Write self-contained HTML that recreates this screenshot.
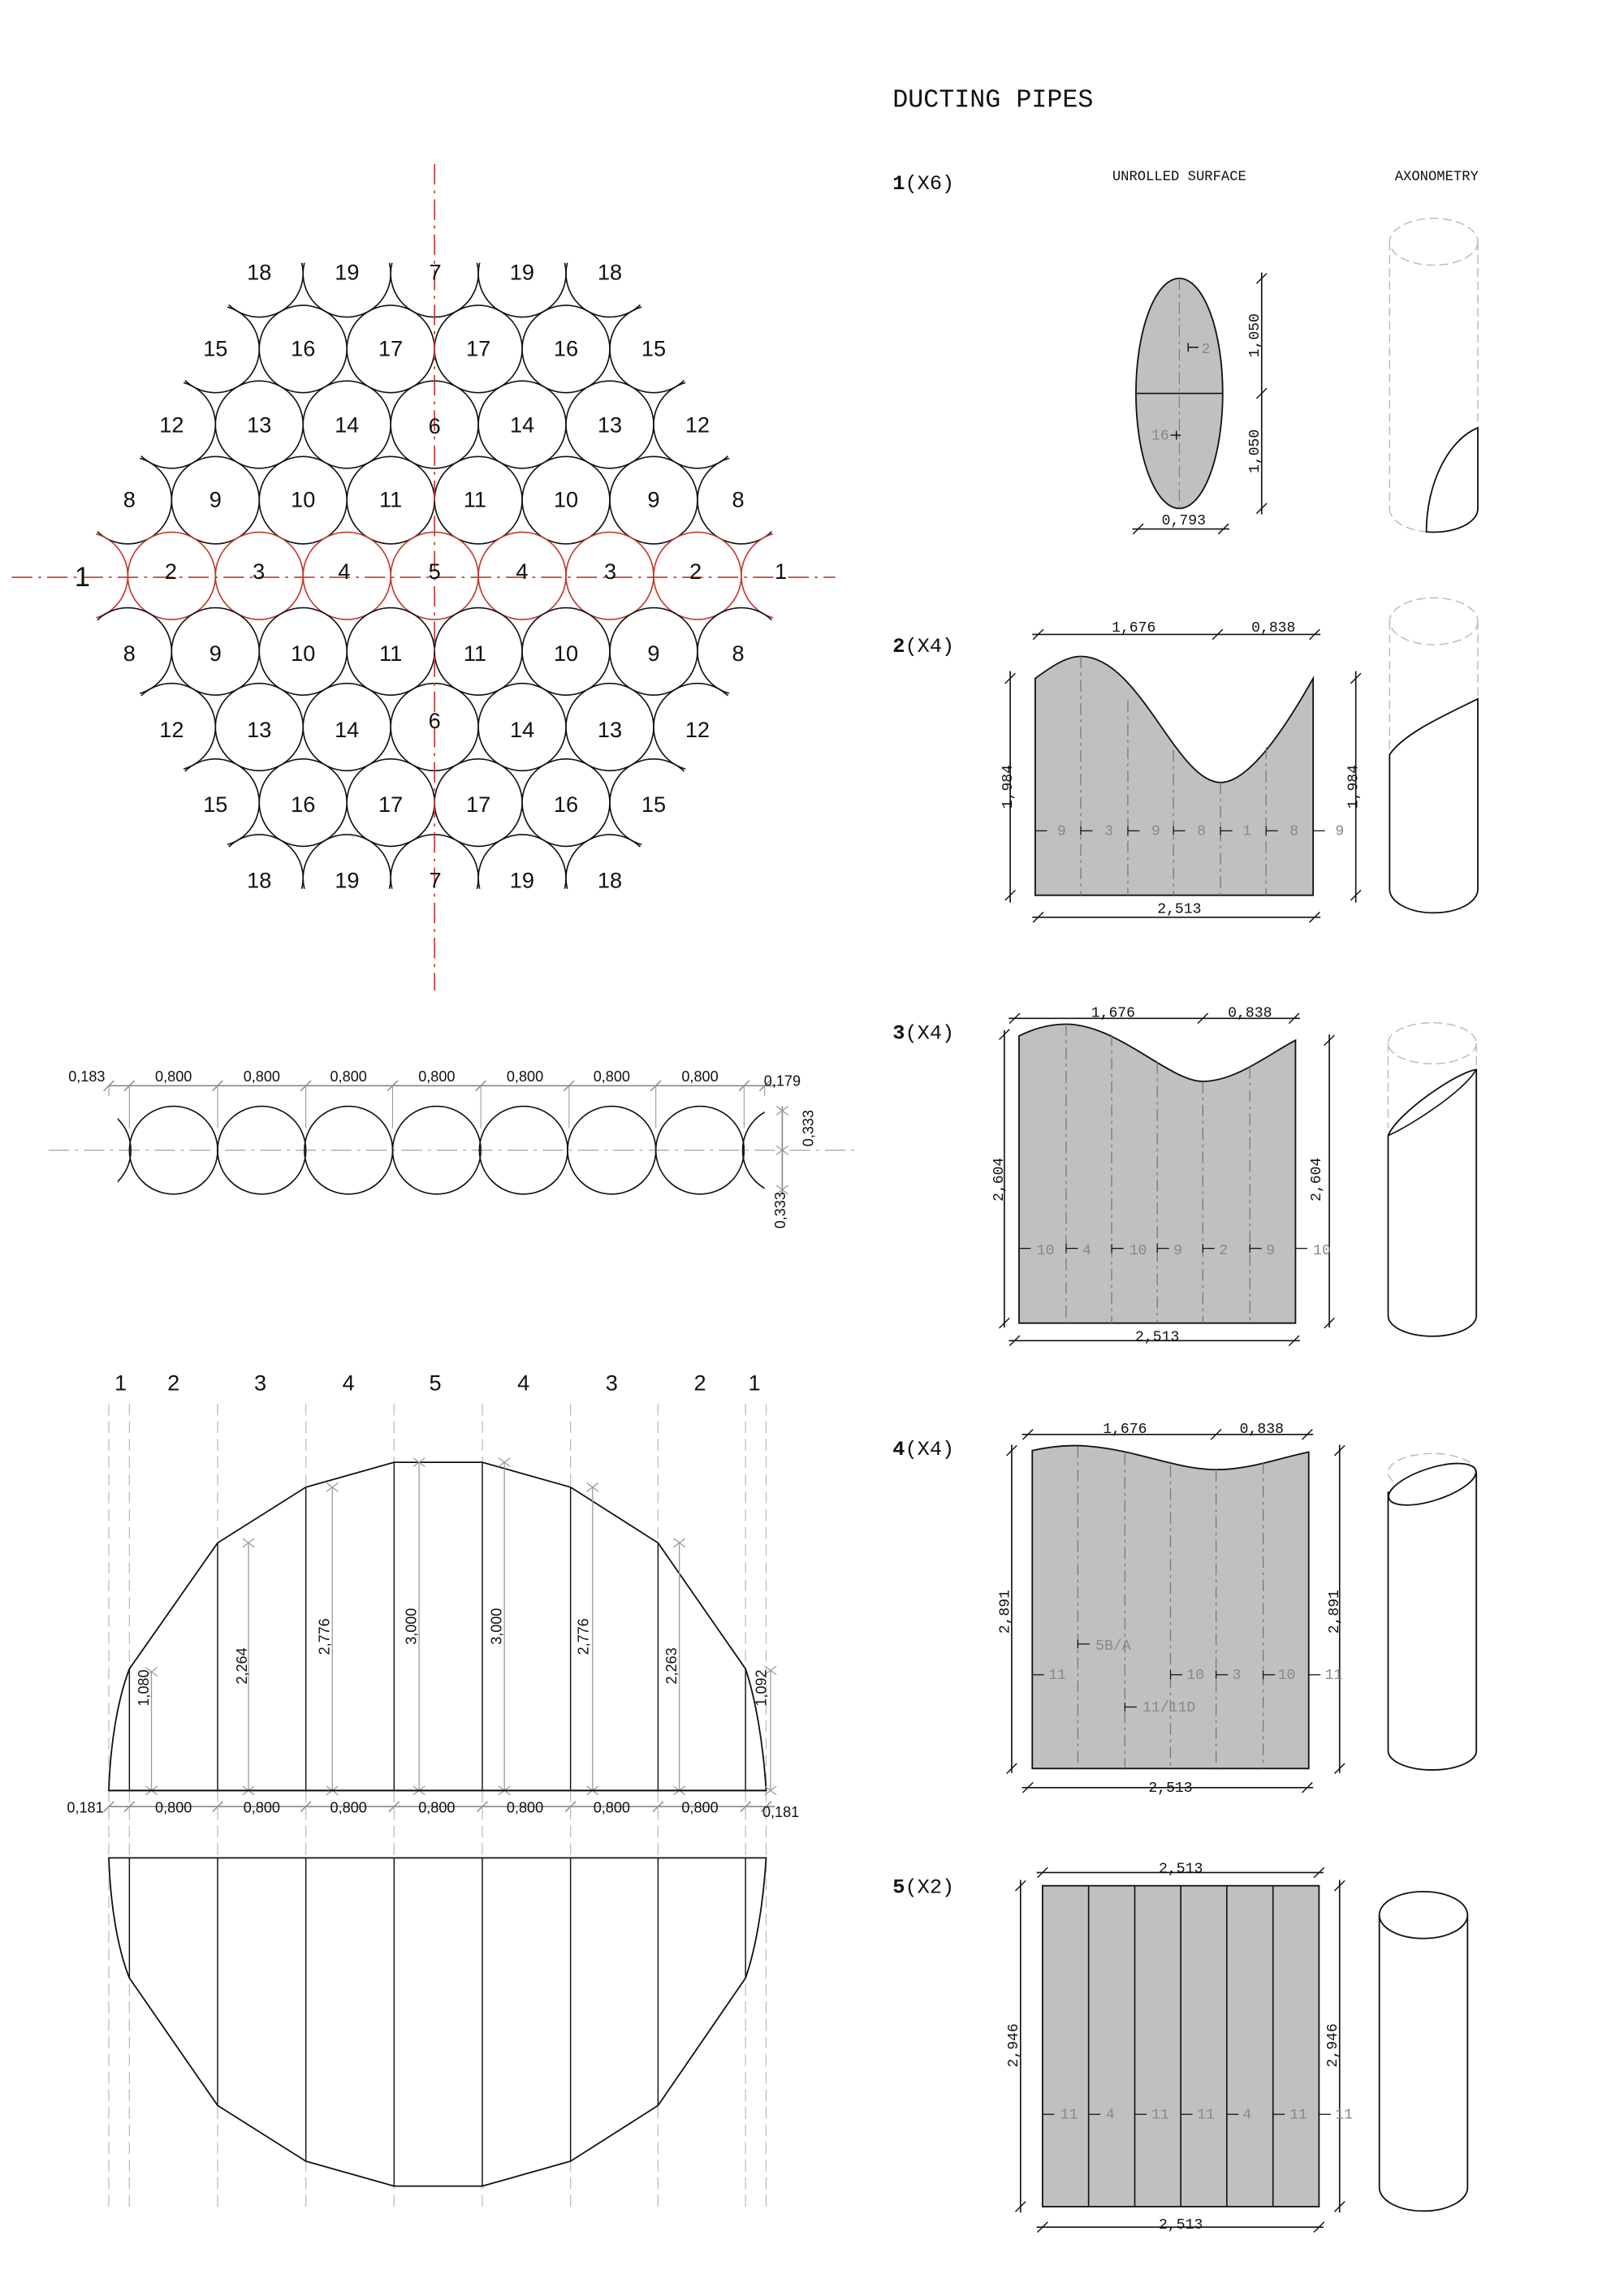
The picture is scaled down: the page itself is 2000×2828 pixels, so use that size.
<!DOCTYPE html>
<html><head><meta charset="utf-8">
<style>
html,body{margin:0;padding:0;background:#fff;}
svg{display:block;}
.s{font-family:"Liberation Sans",sans-serif;fill:#111;}
.m{font-family:"Liberation Mono",monospace;fill:#111;}
.g{fill:#888;}
</style></head>
<body>
<svg id="d" width="2000" height="2828" viewBox="0 0 1104.4 1567" preserveAspectRatio="none" xmlns="http://www.w3.org/2000/svg">
<rect width="1104.4" height="1567" fill="#fff"/>
<defs>
<clipPath id="hexclip"><polygon id="hexpoly" points="0,0"/></clipPath>
</defs>
<g id="hex" fill="none" stroke-width="0.9"></g>
<line x1="8" y1="394" x2="568" y2="394" stroke="#c0392b" stroke-width="0.9" stroke-dasharray="14,4,2,4"/>
<line x1="295.5" y1="112" x2="295.5" y2="676" stroke="#c0392b" stroke-width="0.9" stroke-dasharray="14,4,2,4"/>

<g class="s" font-size="15" text-anchor="middle">
<text x="176.3" y="191">18</text><text x="236" y="191">19</text><text x="296" y="191">7</text><text x="355" y="191">19</text><text x="414.7" y="191">18</text>
<text x="146.5" y="243">15</text><text x="206.1" y="243">16</text><text x="265.7" y="243">17</text><text x="325.3" y="243">17</text><text x="384.9" y="243">16</text><text x="444.5" y="243">15</text>
<text x="116.7" y="295">12</text><text x="176.3" y="295">13</text><text x="235.9" y="295">14</text><text x="295.5" y="296">6</text><text x="355.1" y="295">14</text><text x="414.7" y="295">13</text><text x="474.3" y="295">12</text>
<text x="88" y="346">8</text><text x="146.5" y="346">9</text><text x="206.1" y="346">10</text><text x="265.7" y="346">11</text><text x="323" y="346">11</text><text x="384.9" y="346">10</text><text x="444.5" y="346">9</text><text x="502" y="346">8</text>
<text x="116.2" y="395">2</text><text x="176" y="395">3</text><text x="234" y="395">4</text><text x="295.5" y="395">5</text><text x="355" y="395">4</text><text x="415" y="395">3</text><text x="473" y="395">2</text><text x="531" y="395">1</text>
<text x="56" y="400" font-size="19">1</text>
<text x="88" y="451">8</text><text x="146.5" y="451">9</text><text x="206.1" y="451">10</text><text x="265.7" y="451">11</text><text x="323" y="451">11</text><text x="384.9" y="451">10</text><text x="444.5" y="451">9</text><text x="502" y="451">8</text>
<text x="116.7" y="503">12</text><text x="176.3" y="503">13</text><text x="235.9" y="503">14</text><text x="295.5" y="497">6</text><text x="355.1" y="503">14</text><text x="414.7" y="503">13</text><text x="474.3" y="503">12</text>
<text x="146.5" y="554">15</text><text x="206.1" y="554">16</text><text x="265.7" y="554">17</text><text x="325.3" y="554">17</text><text x="384.9" y="554">16</text><text x="444.5" y="554">15</text>
<text x="176.3" y="606">18</text><text x="236" y="606">19</text><text x="296" y="606">7</text><text x="355" y="606">19</text><text x="414.7" y="606">18</text>
</g>

<g id="mid" fill="none"></g>
<g class="s" font-size="10" text-anchor="middle">
<text x="59" y="738">0,183</text>
<text x="118" y="738">0,800</text><text x="178" y="738">0,800</text><text x="237" y="738">0,800</text><text x="297" y="738">0,800</text><text x="357" y="738">0,800</text><text x="416" y="738">0,800</text><text x="476" y="738">0,800</text>
<text x="532" y="741">0,179</text>
<text transform="translate(553,770) rotate(-90)">0,333</text>
<text transform="translate(534,826) rotate(-90)">0,333</text>
</g>

<g class="s" font-size="15" text-anchor="middle">
<text x="82" y="949">1</text><text x="118" y="949">2</text><text x="177" y="949">3</text><text x="237" y="949">4</text><text x="296" y="949">5</text><text x="356" y="949">4</text><text x="416" y="949">3</text><text x="476" y="949">2</text><text x="513" y="949">1</text>
</g>
<g id="bot" fill="none"></g>
<g class="s" font-size="10" text-anchor="middle">
<text transform="translate(101,1152) rotate(-90)">1,080</text>
<text transform="translate(168,1137) rotate(-90)">2,264</text>
<text transform="translate(224,1117) rotate(-90)">2,776</text>
<text transform="translate(283,1110) rotate(-90)">3,000</text>
<text transform="translate(341,1110) rotate(-90)">3,000</text>
<text transform="translate(400,1117) rotate(-90)">2,776</text>
<text transform="translate(460,1137) rotate(-90)">2,263</text>
<text transform="translate(521,1152) rotate(-90)">1,092</text>
<text x="58" y="1237">0,181</text>
<text x="118" y="1237">0,800</text><text x="178" y="1237">0,800</text><text x="237" y="1237">0,800</text><text x="297" y="1237">0,800</text><text x="357" y="1237">0,800</text><text x="416" y="1237">0,800</text><text x="476" y="1237">0,800</text>
<text x="531" y="1240">0,181</text>
</g>

<text class="m" x="607" y="73" font-size="17.5">DUCTING PIPES</text>
<text class="m" x="607" y="129" font-size="14"><tspan font-weight="bold">1</tspan>(X6)</text>
<text class="m" x="607" y="445" font-size="14"><tspan font-weight="bold">2</tspan>(X4)</text>
<text class="m" x="607" y="709" font-size="14"><tspan font-weight="bold">3</tspan>(X4)</text>
<text class="m" x="607" y="993" font-size="14"><tspan font-weight="bold">4</tspan>(X4)</text>
<text class="m" x="607" y="1292" font-size="14"><tspan font-weight="bold">5</tspan>(X2)</text>
<text class="m" x="802" y="123" font-size="9.5" text-anchor="middle">UNROLLED SURFACE</text>
<text class="m" x="977" y="123" font-size="9.5" text-anchor="middle">AXONOMETRY</text>

<g id="right" fill="none"></g>

<g class="m" font-size="10" text-anchor="middle">
<text transform="translate(856,229) rotate(-90)">1,050</text>
<text transform="translate(856,308) rotate(-90)">1,050</text>
<text x="805" y="358">0,793</text>
<text class="m g" x="820" y="241">2</text>
<text class="m g" x="789" y="300">16</text>
<text x="771" y="431">1,676</text><text x="866" y="431">0,838</text>
<text transform="translate(688,537) rotate(-90)">1,984</text>
<text transform="translate(923,537) rotate(-90)">1,984</text>
<text x="802" y="623">2,513</text>
<text class="m g" x="722" y="570">9</text><text class="m g" x="754" y="570">3</text><text class="m g" x="786" y="570">9</text><text class="m g" x="817" y="570">8</text><text class="m g" x="848" y="570">1</text><text class="m g" x="880" y="570">8</text><text class="m g" x="911" y="570">9</text>
<text x="757" y="694">1,676</text><text x="850" y="694">0,838</text>
<text transform="translate(682,805) rotate(-90)">2,604</text>
<text transform="translate(898,805) rotate(-90)">2,604</text>
<text x="787" y="915">2,513</text>
<text class="m g" x="711" y="856">10</text><text class="m g" x="739" y="856">4</text><text class="m g" x="774" y="856">10</text><text class="m g" x="801" y="856">9</text><text class="m g" x="832" y="856">2</text><text class="m g" x="864" y="856">9</text><text class="m g" x="899" y="856">10</text>
<text x="765" y="978">1,676</text><text x="858" y="978">0,838</text>
<text transform="translate(686,1100) rotate(-90)">2,891</text>
<text transform="translate(910,1100) rotate(-90)">2,891</text>
<text x="796" y="1223">2,513</text>
<text class="m g" x="719" y="1146">11</text>
<text class="m g" x="757" y="1126">5B/A</text>
<text class="m g" x="795" y="1168">11/11D</text>
<text class="m g" x="813" y="1146">10</text><text class="m g" x="841" y="1146">3</text><text class="m g" x="875" y="1146">10</text><text class="m g" x="907" y="1146">11</text>
<text x="803" y="1278">2,513</text>
<text transform="translate(692,1396) rotate(-90)">2,946</text>
<text transform="translate(909,1396) rotate(-90)">2,946</text>
<text x="803" y="1521">2,513</text>
<text class="m g" x="727" y="1446">11</text><text class="m g" x="755" y="1446">4</text><text class="m g" x="789" y="1446">11</text><text class="m g" x="820" y="1446">11</text><text class="m g" x="848" y="1446">4</text><text class="m g" x="883" y="1446">11</text><text class="m g" x="914" y="1446">11</text>
</g>
</svg>
<script>
(function(){
var NS="http://www.w3.org/2000/svg";
function el(parent,tag,attrs){var e=document.createElementNS(NS,tag);for(var k in attrs)e.setAttribute(k,attrs[k]);parent.appendChild(e);return e;}
function L(p,x1,y1,x2,y2,st,w,da){var a={x1:x1,y1:y1,x2:x2,y2:y2,stroke:st||"#111","stroke-width":w||0.8};if(da)a["stroke-dasharray"]=da;return el(p,"line",a);}
function tick(p,x,y,st){L(p,x-3.5,y+3.5,x+3.5,y-3.5,st||"#111",0.8);}
function xt(p,x,y){L(p,x-4,y-3,x+4,y+3,"#999",0.7);L(p,x-4,y+3,x+4,y-3,"#999",0.7);}
var hex=document.getElementById("hex");
var s=59.6,cx=295.5,cy=393,dy=51.6,r=29.8;
var hv=[[176.3,186.6],[414.7,186.6],[533.9,393],[414.7,599.4],[176.3,599.4],[57.1,393]];
var f=1.035;
document.getElementById("hexpoly").setAttribute("points",hv.map(function(v){return ((v[0]-cx)*f+cx)+","+((v[1]-cy)*f+cy);}).join(" "));
for(var k=-4;k<=4;k++){var n=9-Math.abs(k);var y=cy+k*dy;
 for(var j=0;j<n;j++){var x=cx+(j-(n-1)/2)*s;
  var outer=(Math.abs(k)==4||j==0||j==n-1);
  var a={cx:x,cy:y,r:r,stroke:(k==0?"#c0392b":"#111"),"stroke-width":0.9,fill:"none"};
  if(outer)a["clip-path"]="url(#hexclip)";
  el(hex,"circle",a);}}
var mid=document.getElementById("mid");
L(mid,33,785,583,785,"#aaa",0.8,"14,4,2,4");
var mc=[118,178,237,297,356,416,476];
el(mid,"defs",{}).innerHTML='<clipPath id="mclip"><rect x="80" y="740" width="440" height="100"/></clipPath>';
mc.forEach(function(x){el(mid,"circle",{cx:x,cy:785,r:30,stroke:"#111","stroke-width":0.9,fill:"none"});});
el(mid,"circle",{cx:59,cy:785,r:30,stroke:"#111","stroke-width":0.9,fill:"none","clip-path":"url(#mclip)"});
el(mid,"circle",{cx:535,cy:785,r:30,stroke:"#111","stroke-width":0.9,fill:"none","clip-path":"url(#mclip)"});
L(mid,74,741,528,741,"#888",0.9);
[74,88,148,208,267,327,387,446,506,520].forEach(function(x){tick(mid,x,741,"#888");L(mid,x,741,x,(x==74||x==520)?748:770,"#999",0.6);});
L(mid,532,755,532,815,"#888",0.9);
[758,785,812].forEach(function(y){xt(mid,532,y);});
var bot=document.getElementById("bot");
var bx=[74,88,148,208,268,328,388,447.5,507,521];
bx.forEach(function(x){L(bot,x,958,x,1510,"#bbb",0.7,"8,4");});
el(bot,"path",{d:"M74,1222 C75,1190 80,1160 88,1139 L148,1053 L208,1015 L268,998 L328,998 L388,1015 L447.5,1053 L507,1139 C514,1160 519,1190 521,1222 Z",stroke:"#111","stroke-width":1,fill:"#fff"});
var th=[1139,1053,1015,998,998,1015,1053,1139];
for(var i=1;i<9;i++){L(bot,bx[i],th[i-1],bx[i],1222,"#111",0.8);}
var gx=[103,169,226,285,343,403,462,524];var gt=[1141,1053,1015,998,998,1015,1053,1140];
gx.forEach(function(x,i){L(bot,x,gt[i],x,1222,"#999",0.7);xt(bot,x,gt[i]);xt(bot,x,1222);});
L(bot,74,1222,521,1222,"#111",1.1);
L(bot,74,1233,527,1233,"#888",0.9);
bx.forEach(function(x){tick(bot,x,1233,"#888");});
el(bot,"path",{d:"M74,1268 L521,1268 C519,1300 514,1330 507,1350 L447.5,1437 L388,1475 L328,1492 L268,1492 L208,1475 L148,1437 L88,1350 C80,1330 75,1300 74,1268 Z",stroke:"#111","stroke-width":1,fill:"#fff"});
var bh=[1350,1437,1475,1492,1492,1475,1437,1350];
for(var i=1;i<9;i++){L(bot,bx[i],1268,bx[i],bh[i-1],"#111",0.8);}
var R=document.getElementById("right");
var G="#c0c0c0";
el(R,"ellipse",{cx:802,cy:268.5,rx:29.5,ry:78.5,fill:G,stroke:"#111","stroke-width":1});
L(R,772.5,268.5,831.5,268.5,"#111",0.9);
L(R,802,190,802,347,"#777",0.6,"8,3,2,3");
L(R,808,237,815,237,"#111",0.8);L(R,808,234,808,240,"#111",0.8);
L(R,796,297,803,297,"#111",0.8);L(R,800,294,800,300,"#111",0.8);
L(R,858,186,858,351,"#111",0.9);[190,268.5,347].forEach(function(y){tick(R,858,y);});
L(R,770,361,836,361,"#111",0.9);tick(R,774,361);tick(R,832,361);
el(R,"ellipse",{cx:975,cy:165,rx:30,ry:16,stroke:"#bbb","stroke-width":0.8,"stroke-dasharray":"6,3",fill:"none"});
L(R,945,165,945,347,"#bbb",0.8,"6,3");L(R,1005,165,1005,292,"#bbb",0.8,"6,3");
el(R,"path",{d:"M945,347 A30,16 0 0 0 970,363",stroke:"#bbb","stroke-width":0.8,"stroke-dasharray":"6,3",fill:"none"});
el(R,"path",{d:"M970,363 C970,330 985,300 1005,292 L1005,347 A30,16 0 0 1 970,363 Z",stroke:"#111","stroke-width":1,fill:"#fff"});
el(R,"path",{d:"M704,463 C715,455 725,448 735,448 C775,448 800,534 830,534 C850,534 875,495 893,463 L893,611 L704,611 Z",fill:G,stroke:"#111","stroke-width":1});
[735,767,798,830,861].forEach(function(x,i){var top=[448,478,512,534,510][i];L(R,x,top,x,611,"#777",0.7,"8,3,2,3");});
[[704,0],[735,1],[767,1],[798,1],[830,1],[861,1],[893,0]].forEach(function(a){var x=a[0];L(R,x,567,x+8,567,"#111",0.7);if(a[1])L(R,x,564,x,570,"#111",0.7);});
L(R,702,433,898,433,"#111",0.9);tick(R,706,433);tick(R,828,433);tick(R,894,433);
L(R,687,458,687,616,"#111",0.9);tick(R,687,463);tick(R,687,611);
L(R,922,458,922,616,"#111",0.9);tick(R,922,463);tick(R,922,611);
L(R,702,626,898,626,"#111",0.9);tick(R,706,626);tick(R,894,626);
el(R,"ellipse",{cx:975,cy:424,rx:30,ry:16,stroke:"#bbb","stroke-width":0.8,"stroke-dasharray":"6,3",fill:"none"});
L(R,945,424,945,522,"#bbb",0.8,"6,3");L(R,1005,424,1005,477,"#bbb",0.8,"6,3");
el(R,"path",{d:"M1005,477 C985,487 955,500 945,515 L945,607 A30,16 0 0 0 1005,607 Z",stroke:"#111","stroke-width":1,fill:"#fff"});
el(R,"path",{d:"M693,707 C705,701 715,699 725,699 C760,699 795,738 818,738 C840,738 862,720 881,710 L881,903 L693,903 Z",fill:G,stroke:"#111","stroke-width":1});
[725,756,787,818,850].forEach(function(x,i){var t=[699,706,725,738,728][i];L(R,x,t,x,903,"#777",0.7,"8,3,2,3");});
[[693,0],[725,1],[756,1],[787,1],[818,1],[850,1],[881,0]].forEach(function(a){var x=a[0];L(R,x,852,x+8,852,"#111",0.7);if(a[1])L(R,x,849,x,855,"#111",0.7);});
L(R,686,695,884,695,"#111",0.9);tick(R,690,695);tick(R,818,695);tick(R,880,695);
L(R,683,703,683,906,"#111",0.9);tick(R,683,706);tick(R,683,903);
L(R,904,706,904,906,"#111",0.9);tick(R,904,710);tick(R,904,903);
L(R,686,915,884,915,"#111",0.9);tick(R,690,915);tick(R,880,915);
el(R,"ellipse",{cx:974,cy:712,rx:30,ry:14,stroke:"#bbb","stroke-width":0.8,"stroke-dasharray":"6,3",fill:"none"});
L(R,944,712,944,770,"#bbb",0.8,"6,3");L(R,1004,712,1004,735,"#bbb",0.8,"6,3");
el(R,"path",{d:"M944,775 C950,760 990,732 1004,730 L1004,898 A30,14 0 0 1 944,898 Z",stroke:"#111","stroke-width":1,fill:"#fff"});
el(R,"path",{d:"M944,775 C960,768 995,745 1004,730",stroke:"#111","stroke-width":0.9,fill:"none"});
el(R,"path",{d:"M702,990 C715,987 728,986 740,987 C775,990 800,1003 827,1003 C850,1003 870,995 890,991 L890,1207 L702,1207 Z",fill:G,stroke:"#111","stroke-width":1});
[733,765,796,827,859].forEach(function(x,i){var t=[987,992,1000,1003,998][i];L(R,x,t,x,1207,"#777",0.7,"8,3,2,3");});
L(R,702,1143,710,1143,"#111",0.7);L(R,890,1143,898,1143,"#111",0.7);
[[733,1122],[765,1165],[796,1143],[827,1143],[859,1143]].forEach(function(a){L(R,a[0],a[1],a[0]+8,a[1],"#111",0.7);L(R,a[0],a[1]-3,a[0],a[1]+3,"#111",0.7);});
L(R,695,979,893,979,"#111",0.9);tick(R,699,979);tick(R,827,979);tick(R,889,979);
L(R,688,986,688,1210,"#111",0.9);tick(R,688,990);tick(R,688,1207);
L(R,911,986,911,1210,"#111",0.9);tick(R,911,990);tick(R,911,1207);
L(R,695,1220,893,1220,"#111",0.9);tick(R,699,1220);tick(R,889,1220);
el(R,"ellipse",{cx:974,cy:1005,rx:30,ry:13,stroke:"#bbb","stroke-width":0.8,"stroke-dasharray":"6,3",fill:"none"});
el(R,"path",{d:"M944,1018 L944,1195 A30,13 0 0 0 1004,1195 L1004,1004",stroke:"#111","stroke-width":1,fill:"#fff"});
el(R,"ellipse",{cx:974,cy:1013,rx:31,ry:11,transform:"rotate(-18 974 1013)",stroke:"#111","stroke-width":1,fill:"#fff"});
el(R,"rect",{x:709,y:1287,width:188,height:219,fill:G,stroke:"#111","stroke-width":1});
[740.3,771.7,803,834.3,865.7].forEach(function(x){L(R,x,1287,x,1506,"#111",0.9);});
[709,740.3,771.7,803,834.3,865.7,897].forEach(function(x){L(R,x,1443,x+8,1443,"#111",0.7);});
L(R,705,1278,900,1278,"#111",0.9);tick(R,709,1278);tick(R,897,1278);
L(R,694,1283,694,1510,"#111",0.9);tick(R,694,1287);tick(R,694,1506);
L(R,911,1283,911,1510,"#111",0.9);tick(R,911,1287);tick(R,911,1506);
L(R,705,1520,900,1520,"#111",0.9);tick(R,709,1520);tick(R,897,1520);
el(R,"path",{d:"M938,1307 L938,1493 A30,16 0 0 0 998,1493 L998,1307",stroke:"#111","stroke-width":1,fill:"#fff"});
el(R,"ellipse",{cx:968,cy:1307,rx:30,ry:16,stroke:"#111","stroke-width":1,fill:"#fff"});
})();
</script>
</body></html>
